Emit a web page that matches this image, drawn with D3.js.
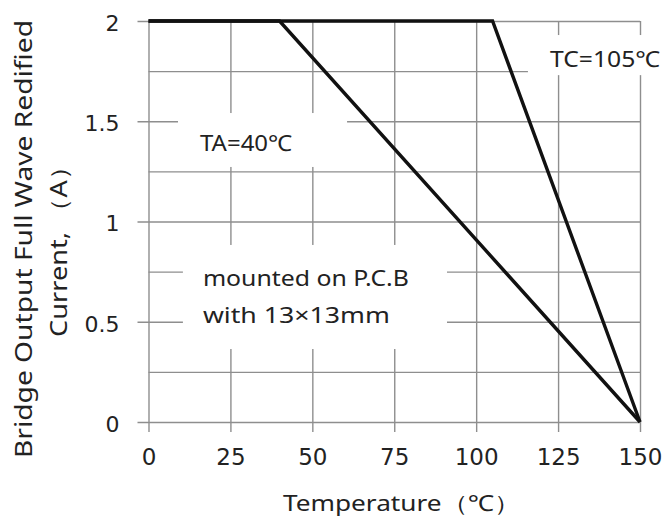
<!DOCTYPE html>
<html>
<head>
<meta charset="utf-8">
<script src="https://cdn.jsdelivr.net/npm/d3@7"></script>
<style>
  html, body { margin: 0; padding: 0; background: #fff; }
  svg { display: block; }
</style>
</head>
<body>
<div id="chart"></div>
<script>
// data
const xTicks = [0, 25, 50, 75, 100, 125, 150];
const yTicks = [0, 0.5, 1, 1.5, 2];
const yGrid = [0, 0.25, 0.5, 0.75, 1, 1.25, 1.5, 1.75, 2];
const taTemp = [0, 40, 150];
const taCurrent = [2, 2, 0];
const tcTemp = [0, 105, 150];
const tcCurrent = [2, 2, 0];
const seriesNames = ["TA=40℃", "TC=105℃"];
const noteLines = ["mounted on P.C.B", "with 13×13mm"];
const yTitleLines = ["Bridge Output Full Wave Redified", "Current, （A）"];
const xTitle = "Temperature（℃）";

const W = 664, H = 526;
const margin = { top: 21, right: 24, bottom: 104, left: 148.5 },
    width = W - margin.left - margin.right,
    height = H - margin.top - margin.bottom;

const gridColor = "#8e8e8e";
const textColor = "#222";

const svg = d3.select("#chart")
    .append("svg")
    .attr("width", W)
    .attr("height", H)
    .append("g")
    .attr("transform", `translate(${margin.left},${margin.top})`);

const x = d3.scaleLinear().domain([0, 150]).range([0, width]);
const y = d3.scaleLinear().domain([0, 2]).range([height, 0]);

// horizontal grid, majors poke out left as ticks
const gy = svg.append("g")
    .call(d3.axisLeft(y).tickValues(yGrid).tickSize(-width).tickFormat(""));
gy.select(".domain").remove();
gy.selectAll(".tick line")
    .attr("stroke", gridColor)
    .attr("stroke-width", 1.4)
    .attr("x1", d => yTicks.includes(d) ? -11 : 0);

// vertical grid, with ticks below
const gx = svg.append("g")
    .attr("transform", `translate(0,${height})`)
    .call(d3.axisBottom(x).tickValues(xTicks).tickSize(-height).tickFormat(""));
gx.select(".domain").remove();
gx.selectAll(".tick line")
    .attr("stroke", gridColor)
    .attr("stroke-width", 1.4)
    .attr("y1", 10);

// tick labels
const ly = svg.append("g")
    .call(d3.axisLeft(y).tickValues(yTicks).tickSize(0).tickPadding(29).tickFormat(d3.format("")));
ly.select(".domain").remove();
ly.selectAll("text")
    .attr("dy", "0.42em")
    .style("font-family", "'DejaVu Sans', sans-serif")
    .style("font-size", "22px")
    .attr("fill", textColor);

const lx = svg.append("g")
    .attr("transform", `translate(0,${height})`)
    .call(d3.axisBottom(x).tickValues(xTicks).tickSize(0).tickPadding(27).tickFormat(d3.format("d")));
lx.select(".domain").remove();
lx.selectAll("text")
    .style("font-family", "'DejaVu Sans', sans-serif")
    .style("font-size", "23px")
    .attr("fill", textColor);

// white label backgrounds that break the grid
const boxes = [
    { x0: 9, x1: 60.6, y0: 1.272, y1: 1.541 },
    { x0: 115.8, x1: 162, y0: 1.73, y1: 1.93 },
    { x0: 10.5, x1: 91.1, y0: 0.364, y1: 0.883 }
];
svg.selectAll("rect.bg")
    .data(boxes)
    .join("rect")
    .attr("class", "bg")
    .attr("x", d => x(d.x0))
    .attr("y", d => y(d.y1))
    .attr("width", d => x(d.x1) - x(d.x0))
    .attr("height", d => y(d.y0) - y(d.y1))
    .attr("fill", "#fff");

// curves
const series = [
    { name: seriesNames[0], values: taTemp.map((t, i) => ({ t, c: taCurrent[i] })) },
    { name: seriesNames[1], values: tcTemp.map((t, i) => ({ t, c: tcCurrent[i] })) }
];
const line = d3.line().x(d => x(d.t)).y(d => y(d.c));
svg.selectAll("path.curve")
    .data(series)
    .join("path")
    .attr("class", "curve")
    .attr("d", d => line(d.values))
    .attr("fill", "none")
    .attr("stroke", "#111")
    .attr("stroke-width", 3.4)
    .attr("stroke-linejoin", "miter");

// annotations
const notes = [
    { text: seriesNames[0], t: 15.7, c: 1.35, len: 92 },
    { text: seriesNames[1], t: 122.5, c: 1.77, len: 110 },
    { text: noteLines[0], t: 16.6, c: 0.678, len: 206 },
    { text: noteLines[1], t: 16.6, c: 0.496, len: 187 }
];
svg.selectAll("text.note")
    .data(notes)
    .join("text")
    .attr("class", "note")
    .attr("x", d => x(d.t))
    .attr("y", d => y(d.c))
    .attr("textLength", d => d.len)
    .attr("lengthAdjust", "spacingAndGlyphs")
    .style("font-family", "'Noto Sans', sans-serif")
    .style("font-size", "22px")
    .attr("fill", textColor)
    .text(d => d.text);

// axis titles
svg.selectAll("text.ytitle")
    .data(yTitleLines)
    .join("text")
    .attr("class", "ytitle")
    .attr("transform", (d, i) => `translate(${i === 0 ? 32 - margin.left : 67 - margin.left},${i === 0 ? 239 - margin.top : 245 - margin.top}) rotate(-90)`)
    .attr("text-anchor", "middle")
    .attr("textLength", (d, i) => i === 0 ? 438 : 184)
    .attr("lengthAdjust", "spacingAndGlyphs")
    .style("font-family", "'Noto Sans', sans-serif")
    .style("font-size", "23px")
    .attr("fill", textColor)
    .text(d => d);

svg.append("text")
    .attr("x", 401.5 - margin.left)
    .attr("y", 511 - margin.top)
    .attr("text-anchor", "middle")
    .attr("textLength", 237)
    .attr("lengthAdjust", "spacingAndGlyphs")
    .style("font-family", "'Noto Sans', sans-serif")
    .style("font-size", "22px")
    .attr("fill", textColor)
    .text(xTitle);
</script>
</body>
</html>
